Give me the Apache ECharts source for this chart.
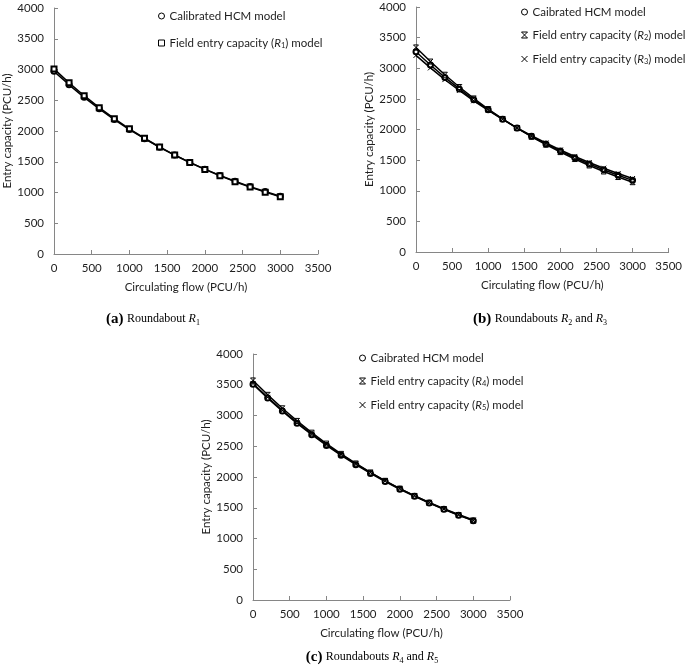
<!DOCTYPE html>
<html><head><meta charset="utf-8">
<script src="https://cdn.jsdelivr.net/npm/echarts@6/dist/echarts.min.js"></script>
<style>html,body{margin:0;padding:0;background:#fff}#c{width:685px;height:671px}</style>
</head><body><div id="c"></div>
<script>
// Circulating flow (PCU/h)
const flow = [0,200,400,600,800,1000,1200,1400,1600,1800,2000,2200,2400,2600,2800,3000];
// (a) Roundabout R1
const hcmA = [2970,2751,2548,2360,2185,2024,1875,1736,1608,1489,1380,1278,1183,1096,1015,940];
const r1   = [3010,2783,2574,2380,2201,2035,1882,1740,1609,1488,1376,1272,1176,1088,1006,930];
// (b) Roundabouts R2 and R3
const hcmB = [3270,3053,2851,2662,2486,2321,2168,2024,1890,1765,1648,1539,1437,1342,1253,1170];
const r2   = [3340,3109,2894,2694,2507,2334,2172,2022,1882,1752,1631,1518,1413,1315,1224,1140];
const r3   = [3210,3006,2815,2637,2469,2312,2166,2028,1899,1779,1666,1560,1461,1368,1281,1200];
// (c) Roundabouts R4 and R5
const hcmC = [3510,3283,3072,2873,2688,2514,2352,2200,2058,1925,1801,1685,1576,1474,1379,1290];
const r4   = [3570,3336,3117,2912,2721,2543,2376,2220,2074,1938,1811,1692,1581,1478,1381,1290];
const r5   = [3520,3294,3082,2884,2699,2526,2363,2212,2070,1937,1812,1696,1587,1485,1390,1300];

const nameA = 'Calibrated HCM model';
const nameBC = 'Caibrated HCM model';
const nR1 = 'Field entry capacity (R1) model';
const nR2 = 'Field entry capacity (R2) model';
const nR3 = 'Field entry capacity (R3) model';
const nR4 = 'Field entry capacity (R4) model';
const nR5 = 'Field entry capacity (R5) model';
const xName = 'Circulating flow (PCU/h)';
const yName = 'Entry capacity (PCU/h)';

const F = 'Lato';
const AX = '#868686';
const TXT = '#1e1e1e';
const BOWTIE = 'path://M0,0L10,0M0,10L10,10M0,0L10,10M10,0L0,10';
const XMARK = 'path://M0,0L10,10M10,0L0,10';
const plain = v => String(v);

function xAx(gi, gap){
  return {type:'value', gridIndex:gi, min:0, max:3500, interval:500,
    name:xName, nameLocation:'middle', nameGap:gap,
    nameTextStyle:{fontFamily:F, fontSize:11.5, color:TXT},
    axisLine:{show:true, lineStyle:{color:AX, width:1}},
    axisTick:{show:true, inside:true, length:4, lineStyle:{color:AX}},
    axisLabel:{fontFamily:F, fontSize:11.5, color:TXT, margin:8, formatter:plain},
    splitLine:{show:false}};
}
function yAx(gi, gap){
  return {type:'value', gridIndex:gi, min:0, max:4000, interval:500,
    name:yName, nameLocation:'middle', nameGap:gap,
    nameTextStyle:{fontFamily:F, fontSize:11.5, color:TXT},
    axisLine:{show:true, lineStyle:{color:AX, width:1}},
    axisTick:{show:true, inside:true, length:4, lineStyle:{color:AX}},
    axisLabel:{fontFamily:F, fontSize:11.5, color:TXT, margin:10, formatter:plain},
    splitLine:{show:false}};
}
function ser(name, gi, vals, symbol){
  return {type:'line', name:name, xAxisIndex:gi, yAxisIndex:gi,
    data: flow.map((f,i)=>[f, vals[i]]),
    symbol:symbol, symbolSize:5, showAllSymbol:true,
    lineStyle:{color:'#000', width:1.5},
    itemStyle:{color:'#000', borderColor:'#000', borderWidth:1},
    emphasis:{disabled:true}, animation:false};
}
const legendRich = {
  i:{fontFamily:F, fontSize:11.5, fontStyle:'italic', color:TXT},
  s:{fontFamily:F, fontSize:7.5, color:TXT, verticalAlign:'bottom', padding:[6,0,0,0]}
};
function legFmt(n){
  return n.replace(/\(R(\d)\)/, (m,d)=>'({i|R}{s|'+d+'})');
}
function leg(left, top, gap, items){
  return {orient:'vertical', left:left, top:top, itemGap:gap, itemWidth:6, itemHeight:6,
    selectedMode:false, data:items, formatter:legFmt,
    textStyle:{fontFamily:F, fontSize:11.5, color:TXT, rich:legendRich},
    itemStyle:{color:'#fff', borderColor:'#000', borderWidth:1}};
}
const capRich = {
  b:{fontFamily:'Liberation Serif', fontWeight:'bold', fontSize:15, color:'#000'},
  t:{fontFamily:'Liberation Serif', fontSize:12, color:'#000'},
  i:{fontFamily:'Liberation Serif', fontStyle:'italic', fontSize:12, color:'#000'},
  s:{fontFamily:'Liberation Serif', fontSize:8, color:'#000', verticalAlign:'bottom', padding:[6,0,0,0]}
};

const option = {
  backgroundColor:'#fff',
  animation:false,
  grid:[
    {left:54, top:8, width:264, height:246},
    {left:416, top:7, width:257, height:245},
    {left:253, top:354, width:257, height:246}
  ],
  xAxis:[xAx(0,27), xAx(1,27), xAx(2,27)],
  yAxis:[yAx(0,40), yAx(1,38), yAx(2,37)],
  legend:[
    leg(153, 5, 15, [{name:nameA, icon:'circle'},{name:nR1, icon:'rect'}]),
    leg(516, 1, 11, [{name:nameBC, icon:'circle'},{name:nR2, icon:BOWTIE},{name:nR3, icon:XMARK}]),
    leg(354, 347, 11, [{name:nameBC, icon:'circle'},{name:nR4, icon:BOWTIE},{name:nR5, icon:XMARK}])
  ],
  series:[
    ser(nameA, 0, hcmA, 'emptyCircle'),
    ser(nR1, 0, r1, 'emptyRect'),
    ser(nameBC, 1, hcmB, 'emptyCircle'),
    ser(nR2, 1, r2, BOWTIE),
    ser(nR3, 1, r3, XMARK),
    ser(nameBC, 2, hcmC, 'emptyCircle'),
    ser(nR4, 2, r4, BOWTIE),
    ser(nR5, 2, r5, XMARK)
  ],
  graphic:[
    {type:'text', x:153, y:319, style:{text:'{b|(a)} {t|Roundabout }{i|R}{s|1}', rich:capRich, align:'center', verticalAlign:'middle'}},
    {type:'text', x:540, y:319, style:{text:'{b|(b)} {t|Roundabouts }{i|R}{s|2}{t| and }{i|R}{s|3}', rich:capRich, align:'center', verticalAlign:'middle'}},
    {type:'text', x:372, y:657, style:{text:'{b|(c)} {t|Roundabouts }{i|R}{s|4}{t| and }{i|R}{s|5}', rich:capRich, align:'center', verticalAlign:'middle'}}
  ]
};
const chart = echarts.init(document.getElementById('c'), null, {renderer:'canvas'});
chart.setOption(option);
</script>
</body></html>
